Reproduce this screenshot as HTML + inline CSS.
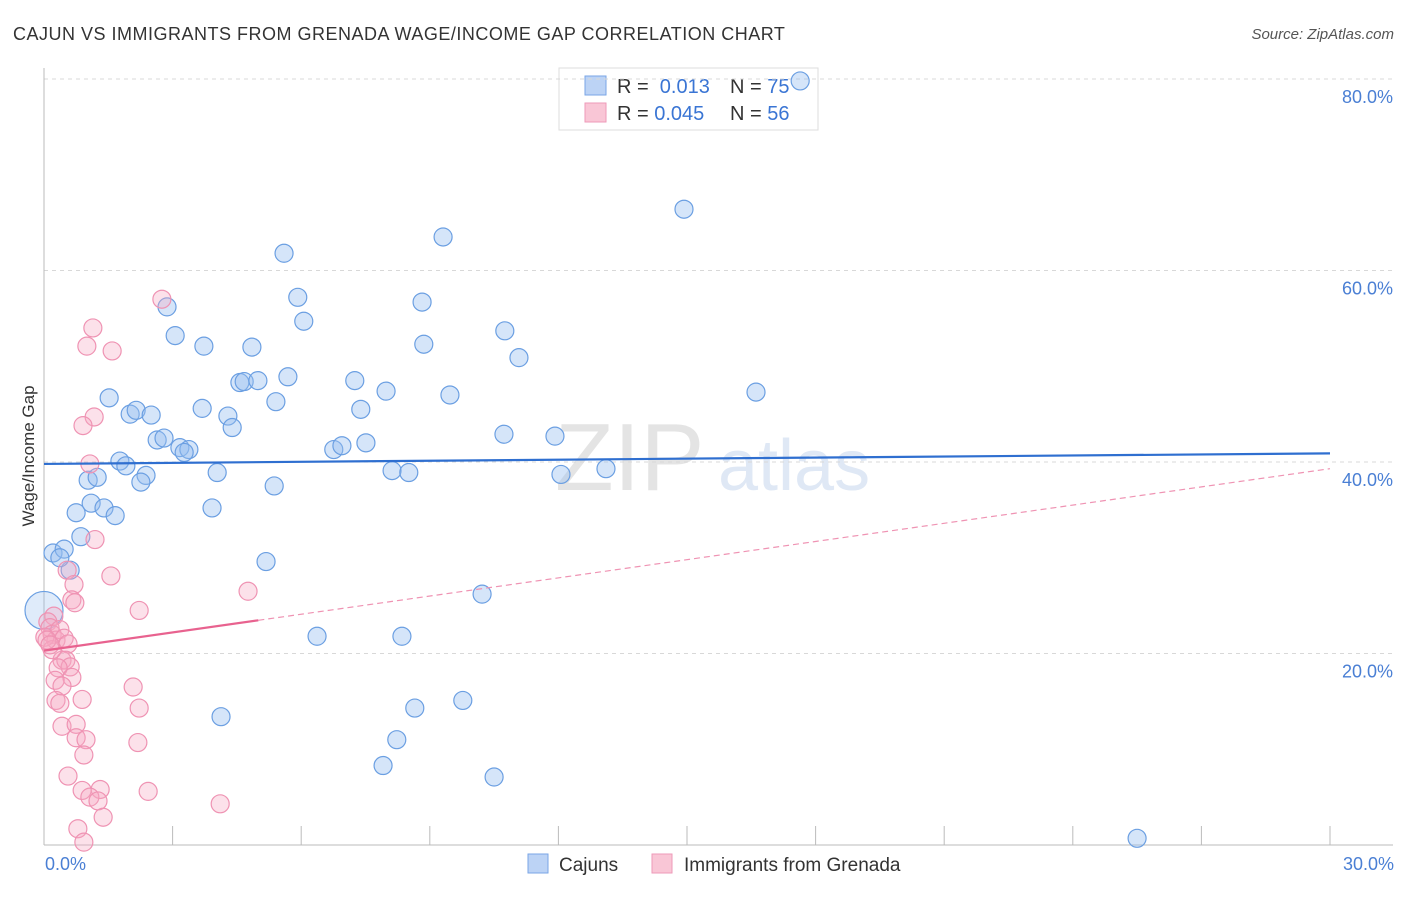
<!DOCTYPE html>
<html><head><meta charset="utf-8"><style>
body{margin:0;background:#fff;font-family:"Liberation Sans",sans-serif;}
svg text{font-family:"Liberation Sans",sans-serif;}
</style></head><body>
<svg id="chart" width="1406" height="892" xmlns="http://www.w3.org/2000/svg">
<text x="13" y="40" font-size="18" letter-spacing="0.5" fill="#333">CAJUN VS IMMIGRANTS FROM GRENADA WAGE/INCOME GAP CORRELATION CHART</text>
<text x="1394" y="39" font-size="15" fill="#555" font-style="italic" text-anchor="end">Source: ZipAtlas.com</text>
<g><text x="555" y="490" font-size="96" fill="#e4e4e4" font-family="Liberation Serif">ZIP</text><text x="718" y="490" font-size="72" fill="#dfe8f5">atlas</text></g>
<g>
<rect x="559" y="68" width="259" height="62" fill="#fff" stroke="#ddd"/>
<rect x="585" y="76" width="21" height="19" fill="#bcd3f5" stroke="#7aa6e6"/>
<rect x="585" y="103" width="21" height="19" fill="#f9c6d6" stroke="#ee9ab8"/>
<text x="617" y="93" font-size="20" fill="#333">R = <tspan fill="#3a75d4">&#160;0.013</tspan></text>
<text x="730" y="93" font-size="20" fill="#333">N = <tspan fill="#3a75d4">75</tspan></text>
<text x="617" y="120" font-size="20" fill="#333">R = <tspan fill="#3a75d4">0.045</tspan></text>
<text x="730" y="120" font-size="20" fill="#333">N = <tspan fill="#3a75d4">56</tspan></text>
</g>
<g id="grid"></g><g id="axes"></g><g id="pts"></g><g id="trends"></g>
<text transform="translate(34,456) rotate(-90)" font-size="17" fill="#333" text-anchor="middle">Wage/Income Gap</text>
<text x="45" y="870" font-size="18" fill="#4a7fd4">0.0%</text>
<text x="1394" y="870" font-size="18" fill="#4a7fd4" text-anchor="end">30.0%</text>
<g>
<rect x="528" y="854" width="20" height="19" fill="#bcd3f5" stroke="#7aa6e6"/>
<text x="559" y="871" font-size="19" fill="#333">Cajuns</text>
<rect x="652" y="854" width="20" height="19" fill="#f9c6d6" stroke="#ee9ab8"/>
<text x="684" y="871" font-size="19" fill="#333">Immigrants from Grenada</text>
</g>
</svg>
<script>
const yTicks=[20,40,60,80];
const yTickLabels=["20.0%","40.0%","60.0%","80.0%"];
const xTicks=[3,6,9,12,15,18,21,24,27,30];
const cajunX=[0.21,0.47,0.61,0.37,0.75,0.86,1.03,1.24,1.10,1.40,1.66,1.52,2.01,2.15,2.50,1.77,1.91,2.38,2.26,2.64,2.80,3.17,3.38,3.27,2.87,3.06,3.73,3.69,4.29,4.39,4.04,3.92,4.57,4.67,4.99,4.85,5.41,5.37,5.69,5.18,5.60,5.92,6.06,6.76,6.95,7.51,7.25,7.39,7.98,8.12,8.51,8.82,8.86,9.31,9.47,10.75,11.08,10.73,11.92,12.06,13.11,14.93,16.61,17.64,10.22,6.37,8.35,4.13,8.65,8.23,9.77,7.91,10.50,25.50,0.0];
const cajunY=[30.5,30.9,28.7,30.0,34.7,32.2,38.1,38.4,35.7,35.2,34.4,46.7,45.0,45.4,44.9,40.1,39.6,38.6,37.9,42.3,42.5,41.5,41.3,41.0,56.2,53.2,52.1,45.6,44.8,43.6,38.9,35.2,48.3,48.4,48.5,52.0,46.3,37.5,48.9,29.6,61.8,57.2,54.7,41.3,41.7,42.0,48.5,45.5,47.4,39.1,38.9,56.7,52.3,63.5,47.0,53.7,50.9,42.9,42.7,38.7,39.3,66.4,47.3,79.8,26.2,21.8,21.8,13.4,14.3,11.0,15.1,8.3,7.1,0.7,24.5];
const grenX=[2.75,1.14,1.00,1.59,1.17,0.91,1.07,1.19,1.56,0.54,0.70,0.65,0.72,2.22,4.76,0.23,0.09,0.14,0.19,0.28,0.02,0.37,0.47,0.56,0.42,0.51,0.61,0.33,0.65,0.26,0.42,0.28,0.37,0.89,2.08,2.22,0.42,0.75,0.75,0.98,2.19,0.93,0.56,0.89,1.31,1.07,1.26,2.43,4.11,1.38,0.79,0.93,0.19,0.07,0.14];
const grenY=[57.0,54.0,52.1,51.6,44.7,43.8,39.8,31.9,28.1,28.7,27.2,25.6,25.3,24.5,26.5,23.9,23.3,22.7,22.0,21.4,21.7,22.5,21.6,21.0,19.3,19.3,18.6,18.5,17.5,17.2,16.6,15.1,14.8,15.2,16.5,14.3,12.4,12.6,11.2,11.0,10.7,9.4,7.2,5.7,5.8,5.0,4.6,5.6,4.3,2.9,1.7,0.3,20.4,21.4,20.9];
const cajunTrend=[39.8,40.9];
const grenTrend=[20.3,39.3];
const grenSolidEnd=5.0;
const X0=44,X1=1330,Y0=845,Y80=79;
const sx=v=>X0+(X1-X0)*v/30;
const sy=v=>Y0-(Y0-Y80)*v/80;
const NS="http://www.w3.org/2000/svg";
function mk(tag,attrs,parent){const e=document.createElementNS(NS,tag);for(const k in attrs)e.setAttribute(k,attrs[k]);parent.appendChild(e);return e;}
const grid=document.getElementById('grid'),axes=document.getElementById('axes'),pts=document.getElementById('pts'),tr=document.getElementById('trends'),svg=document.getElementById('chart');
yTicks.forEach((t,i)=>{
 const l=mk('line',{x1:X0,x2:1393,y1:sy(t),y2:sy(t),stroke:'#d8d8d8','stroke-dasharray':'4,4'},grid);
 
 
 const tx=mk('text',{x:1393,y:sy(t)+24,'font-size':18,fill:'#4a7fd4','text-anchor':'end'},svg);
 tx.textContent=yTickLabels[i];
 
 
});
const ya=mk('line',{x1:X0,x2:X0,y1:68,y2:Y0,stroke:'#bbb'},axes);


const xa=mk('line',{x1:X0,x2:1393,y1:Y0,y2:Y0,stroke:'#bbb'},axes);


xTicks.forEach(t=>{
 const l=mk('line',{x1:sx(t),x2:sx(t),y1:826,y2:Y0,stroke:'#bbb'},axes);
 
 
});
cajunX.forEach((x,i)=>{
 const big=(i===cajunX.length-1);
 const c=mk('circle',{cx:sx(x),cy:sy(cajunY[i]),r:big?19:9,fill:big?'rgba(150,190,240,0.3)':'rgba(150,190,240,0.4)',stroke:'#6b9fe2','stroke-width':1.2},pts);
 
 
});
grenX.forEach((x,i)=>{
 const c=mk('circle',{cx:sx(x),cy:sy(grenY[i]),r:9,fill:'rgba(245,170,195,0.35)',stroke:'#ef93b3','stroke-width':1.2},pts);
 
 
});
const bl=mk('line',{x1:sx(0),x2:sx(30),y1:sy(cajunTrend[0]),y2:sy(cajunTrend[1]),stroke:'#2f6fd0','stroke-width':2.2},tr);


const gAt=x=>grenTrend[0]+(grenTrend[1]-grenTrend[0])*x/30;
const ps=mk('line',{x1:sx(0),x2:sx(grenSolidEnd),y1:sy(gAt(0)),y2:sy(gAt(grenSolidEnd)),stroke:'#e8628f','stroke-width':2.2},tr);


const pd=mk('line',{x1:sx(grenSolidEnd),x2:sx(30),y1:sy(gAt(grenSolidEnd)),y2:sy(gAt(30)),stroke:'#ef93b3','stroke-width':1.2,'stroke-dasharray':'6,4'},tr);


</script>
</body></html>
